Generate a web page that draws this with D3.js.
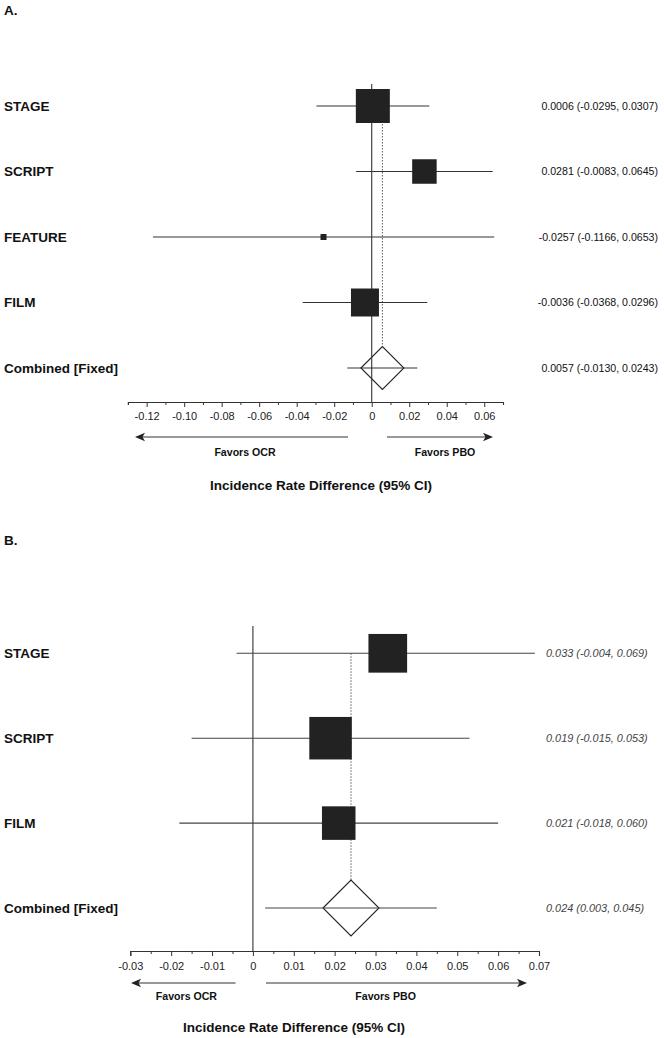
<!DOCTYPE html>
<html><head><meta charset="utf-8">
<script src="https://cdn.jsdelivr.net/npm/d3@7"></script>
<style>
body{margin:0;background:#fff}
svg{display:block}
text{font-family:"Liberation Sans",Arial,Helvetica,sans-serif}
</style>
</head><body>
<svg id="chart" width="664" height="1038"></svg>
<script>
// ---------- Panel A data ----------
const studiesA = ["STAGE", "SCRIPT", "FEATURE", "FILM"];
const estA  = [0.0006, 0.0281, -0.0257, -0.0036];
const lowA  = [-0.0295, -0.0083, -0.1166, -0.0368];
const highA = [0.0307, 0.0645, 0.0653, 0.0296];
const weightA = [44.9, 23.3, 1.4, 30.4];
const pooledLabelA = "Combined [Fixed]";
const pooledA = [0.0057, -0.0130, 0.0243]; // estimate, low, high
const tickValsA = [-0.12, -0.10, -0.08, -0.06, -0.04, -0.02, 0, 0.02, 0.04, 0.06];
const tickLabelsA = ["-0.12", "-0.10", "-0.08", "-0.06", "-0.04", "-0.02", "0", "0.02", "0.04", "0.06"];
const minorTicksA = [-0.13, -0.11, -0.09, -0.07, -0.05, -0.03, -0.01, 0.01, 0.03, 0.05, 0.07];

// ---------- Panel B data ----------
const studiesB = ["STAGE", "SCRIPT", "FILM"];
const estB  = [0.033, 0.019, 0.021];
const lowB  = [-0.004, -0.015, -0.018];
const highB = [0.069, 0.053, 0.060];
const weightB = [33.8, 40.8, 25.4];
const pooledLabelB = "Combined [Fixed]";
const pooledB = [0.024, 0.003, 0.045];
const tickValsB = [-0.03, -0.02, -0.01, 0, 0.01, 0.02, 0.03, 0.04, 0.05, 0.06, 0.07];
const tickLabelsB = ["-0.03", "-0.02", "-0.01", "0", "0.01", "0.02", "0.03", "0.04", "0.05", "0.06", "0.07"];
const minorTicksB = [-0.025, -0.015, -0.005, 0.005, 0.015, 0.025, 0.035, 0.045, 0.055, 0.065];

const axisTitle = "Incidence Rate Difference (95% CI)";
const favorsLeft = "Favors OCR";
const favorsRight = "Favors PBO";

const loc = d3.formatLocale({decimal: ".", thousands: ",", grouping: [3], currency: ["", ""], minus: "-"});

const svg = d3.select("#chart");
svg.append("rect").attr("width", 664).attr("height", 1038).attr("fill", "#fff");

function drawPanel(cfg) {
  const g = svg.append("g");
  const x = d3.scaleLinear().domain(cfg.domain).range(cfg.range);
  const rowNames = cfg.studies.concat([cfg.pooledLabel]);
  const y = d3.scalePoint().domain(d3.range(rowNames.length)).range([cfg.yFirst, cfg.yLast]);
  const size = d3.scaleSqrt().domain([0, d3.max(cfg.weight)]).range([0, cfg.maxBox]);
  const fmt = loc.format(cfg.fmt);
  const n = cfg.studies.length;
  const pooledY = y(n);

  g.append("text").attr("x", 4).attr("y", cfg.letterY).attr("font-size", 13.5)
    .attr("font-weight", "bold").attr("fill", "#111").text(cfg.letter);

  g.selectAll("text.lab").data(rowNames).join("text").attr("class", "lab")
    .attr("x", 4).attr("y", (d, i) => y(i)).attr("dy", "0.36em")
    .attr("font-size", 13.5).attr("font-weight", "bold").attr("fill", "#111").text(d => d);

  const rightTexts = cfg.studies.map((s, i) => `${fmt(cfg.est[i])} (${fmt(cfg.low[i])}, ${fmt(cfg.high[i])})`)
    .concat([`${fmt(cfg.pooled[0])} (${fmt(cfg.pooled[1])}, ${fmt(cfg.pooled[2])})`]);
  g.selectAll("text.val").data(rightTexts).join("text").attr("class", "val")
    .attr("x", cfg.valX).attr("y", (d, i) => y(i)).attr("dy", "0.35em")
    .attr("text-anchor", cfg.valAnchor)
    .attr("font-size", cfg.valSize).attr("font-style", cfg.valItalic ? "italic" : "normal")
    .attr("fill", cfg.valColor).text(d => d);

  const px = x(cfg.pooled[0]);
  g.append("path")
    .attr("d", `M${px - cfg.diam},${pooledY}L${px},${pooledY - cfg.diam}L${px + cfg.diam},${pooledY}L${px},${pooledY + cfg.diam}Z`)
    .attr("fill", "#fff").attr("stroke", "#222").attr("stroke-width", 1.1);

  g.append("line").attr("x1", x(0)).attr("x2", x(0)).attr("y1", cfg.zeroTop).attr("y2", cfg.axisY)
    .attr("stroke", "#333").attr("stroke-width", 1.1);
  g.append("line").attr("x1", px).attr("x2", px).attr("y1", y(0)).attr("y2", pooledY - cfg.diam)
    .attr("stroke", "#333").attr("stroke-width", 0.8).attr("stroke-dasharray", "1.5,1.5");

  const ciLow = cfg.low.concat([cfg.pooled[1]]);
  const ciHigh = cfg.high.concat([cfg.pooled[2]]);
  g.selectAll("line.ci").data(rowNames).join("line").attr("class", "ci")
    .attr("x1", (d, i) => x(ciLow[i])).attr("x2", (d, i) => x(ciHigh[i]))
    .attr("y1", (d, i) => y(i)).attr("y2", (d, i) => y(i))
    .attr("stroke", cfg.ciColor).attr("stroke-width", 1.1);

  g.selectAll("rect.box").data(cfg.studies).join("rect").attr("class", "box")
    .attr("x", (d, i) => x(cfg.est[i]) - size(cfg.weight[i]) / 2)
    .attr("y", (d, i) => y(i) - size(cfg.weight[i]) / 2)
    .attr("width", (d, i) => size(cfg.weight[i]))
    .attr("height", (d, i) => size(cfg.weight[i]))
    .attr("fill", "#222");

  const ax = g.append("g").attr("transform", `translate(0,${cfg.axisY})`);
  ax.call(d3.axisBottom(x).tickValues(cfg.ticks).tickFormat((d, i) => cfg.tickLabels[i])
    .tickSize(5).tickSizeOuter(cfg.outerTick).tickPadding(cfg.tickPad));
  ax.select(".domain").attr("stroke", "#333").attr("stroke-width", 1.1);
  ax.selectAll(".tick line").attr("stroke", "#333");
  ax.selectAll(".tick text").attr("font-size", 11).attr("fill", "#222")
    .attr("font-family", '"Liberation Sans",Arial,sans-serif');
  const mx = g.append("g").attr("transform", `translate(0,${cfg.axisY})`);
  mx.call(d3.axisBottom(x).tickValues(cfg.minor).tickFormat("").tickSize(3).tickSizeOuter(0));
  mx.select(".domain").remove();
  mx.selectAll(".tick line").attr("stroke", "#333");

  function arrow(x1, x2) {
    const dir = Math.sign(x2 - x1);
    const yA = cfg.arrowY;
    g.append("line").attr("x1", x1).attr("x2", x2 - dir * 6).attr("y1", yA).attr("y2", yA)
      .attr("stroke", "#333").attr("stroke-width", 1.2);
    g.append("path").attr("d", `M${x2},${yA}L${x2 - dir * 10},${yA - 4.2}L${x2 - dir * 7.5},${yA}L${x2 - dir * 10},${yA + 4.2}Z`)
      .attr("fill", "#222");
  }
  arrow(cfg.leftArrow[0], cfg.leftArrow[1]);
  arrow(cfg.rightArrow[0], cfg.rightArrow[1]);
  g.append("text").attr("x", cfg.favX[0]).attr("y", cfg.favY).attr("dy", "0.36em").attr("text-anchor", "middle")
    .attr("font-size", 10.6).attr("font-weight", "bold").attr("fill", "#111").text(favorsLeft);
  g.append("text").attr("x", cfg.favX[1]).attr("y", cfg.favY).attr("dy", "0.36em").attr("text-anchor", "middle")
    .attr("font-size", 10.6).attr("font-weight", "bold").attr("fill", "#111").text(favorsRight);

  g.append("text").attr("x", cfg.titleX).attr("y", cfg.titleY).attr("dy", "0.36em").attr("text-anchor", "middle")
    .attr("font-size", 13.5).attr("font-weight", "bold").attr("fill", "#111").text(axisTitle);
}

drawPanel({
  letter: "A.", letterY: 15,
  studies: studiesA, est: estA, low: lowA, high: highA, weight: weightA,
  pooledLabel: pooledLabelA, pooled: pooledA,
  ticks: tickValsA, tickLabels: tickLabelsA, minor: minorTicksA,
  domain: [-0.13, 0.07], range: [127.9, 503], outerTick: 3,
  yFirst: 106, yLast: 368, zeroTop: 84, axisY: 402, tickPad: 5,
  maxBox: 34, diam: 21.5, fmt: ".4f",
  valX: 658, valAnchor: "end", valSize: 10.6, valItalic: false, valColor: "#111",
  ciColor: "#333",
  arrowY: 437, leftArrow: [348, 135], rightArrow: [387, 493], favX: [245, 445], favY: 452,
  titleX: 321, titleY: 485
});

drawPanel({
  letter: "B.", letterY: 545,
  studies: studiesB, est: estB, low: lowB, high: highB, weight: weightB,
  pooledLabel: pooledLabelB, pooled: pooledB,
  ticks: tickValsB, tickLabels: tickLabelsB, minor: minorTicksB,
  domain: [-0.03, 0.07], range: [130.3, 539], outerTick: 5,
  yFirst: 653.3, yLast: 908, zeroTop: 626, axisY: 951, tickPad: 6,
  maxBox: 42.5, diam: 28, fmt: ".3f",
  valX: 546, valAnchor: "start", valSize: 10.9, valItalic: true, valColor: "#444",
  ciColor: "#444",
  arrowY: 983, leftArrow: [235.6, 131], rightArrow: [266, 527], favX: [186.4, 385.6], favY: 996,
  titleX: 294, titleY: 1027
});
</script>
</body></html>
